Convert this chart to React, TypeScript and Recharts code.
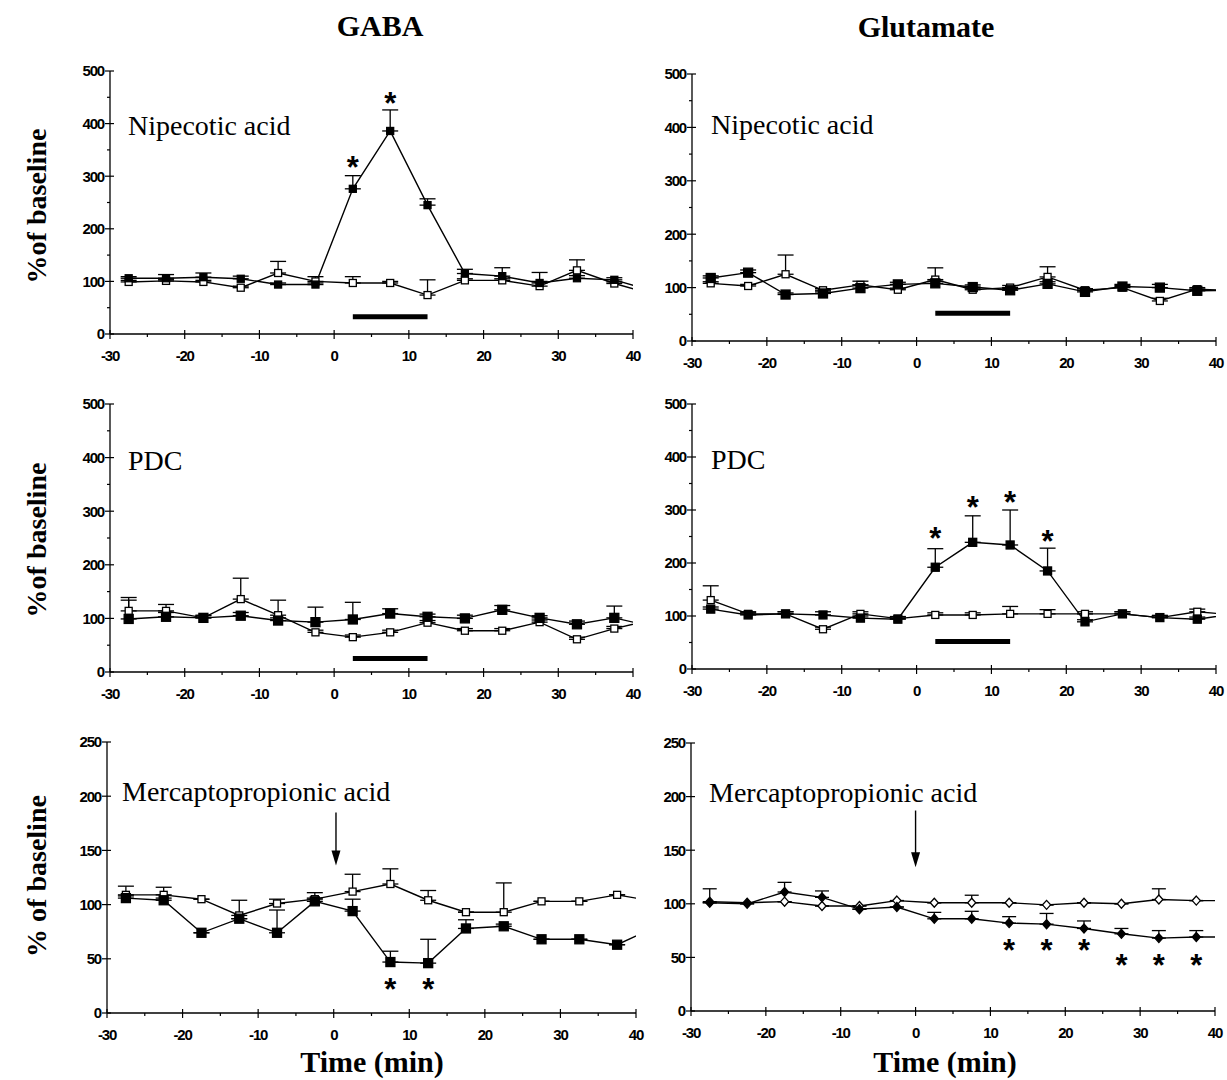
import React from 'react';
import { ComposedChart, Line, Scatter, XAxis, YAxis, ErrorBar, ReferenceLine } from 'recharts';

// sampling times (min): middle of each 5-min fraction, the last one lies past the axis end
const times = [-27.5, -22.5, -17.5, -12.5, -7.5, -2.5, 2.5, 7.5, 12.5, 17.5, 22.5, 27.5, 32.5, 37.5, 42.5];

const xTicks = [-30, -25, -20, -15, -10, -5, 0, 5, 10, 15, 20, 25, 30, 35, 40];
const yTicksTall = [0, 50, 100, 150, 200, 250, 300, 350, 400, 450, 500];
const yTicksShort = [0, 50, 100, 150, 200, 250];

// GABA, nipecotic acid
const gabaNipDrug = [106, 106, 108, 105, 94, 94, 276, 386, 245, 115, 110, 97, 106, 103, 82];
const gabaNipDrugErr = [3, 7, 8, 5, 3, 3, 25, 40, 12, 8, 16, 3, 5, 4, 0];
const gabaNipCtrl = [99, 101, 99, 88, 116, 100, 97, 97, 74, 102, 102, 91, 121, 96, 76];
const gabaNipCtrlErr = [3, 3, 3, 3, 22, 9, 12, 3, 29, 3, 3, 26, 20, 3, 0];
const gabaNipStarT = [2.5, 7.5];
const gabaNipStarY = [330, 453];

// glutamate, nipecotic acid
const gluNipDrug = [118, 128, 87, 89, 99, 106, 108, 101, 95, 107, 92, 102, 100, 94, 95];
const gluNipDrugErr = [4, 5, 3, 3, 6, 4, 4, 4, 3, 4, 3, 4, 6, 3, 0];
const gluNipCtrl = [108, 103, 125, 95, 105, 96, 115, 96, 100, 120, 95, 100, 75, 97, 94];
const gluNipCtrlErr = [3, 3, 36, 3, 7, 3, 22, 3, 4, 19, 3, 4, 5, 3, 0];

// GABA, PDC
const gabaPdcDrug = [99, 103, 101, 105, 96, 93, 98, 109, 103, 100, 116, 101, 89, 101, 85];
const gabaPdcDrugErr = [35, 8, 5, 6, 5, 28, 32, 9, 5, 6, 8, 4, 6, 22, 0];
const gabaPdcCtrl = [114, 114, 101, 136, 106, 74, 65, 74, 92, 77, 77, 93, 61, 81, 97];
const gabaPdcCtrlErr = [25, 12, 4, 39, 28, 4, 4, 4, 4, 4, 4, 4, 4, 4, 0];

// glutamate, PDC
const gluPdcDrug = [113, 102, 104, 102, 96, 94, 192, 239, 234, 185, 89, 104, 97, 94, 104];
const gluPdcDrugErr = [4, 5, 4, 6, 4, 4, 35, 50, 66, 43, 4, 4, 4, 4, 0];
const gluPdcCtrl = [130, 104, 104, 75, 104, 95, 102, 102, 104, 104, 104, 104, 97, 108, 102];
const gluPdcCtrlErr = [27, 4, 4, 4, 4, 4, 4, 4, 14, 8, 4, 4, 4, 5, 0];
const gluPdcStarT = [2.5, 7.5, 12.5, 17.5];
const gluPdcStarY = [261, 318, 329, 255];

// GABA, mercaptopropionic acid
const gabaMpaDrug = [106, 104, 74, 87, 74, 103, 94, 47, 46, 78, 80, 68, 68, 63, 79];
const gabaMpaDrugErr = [2, 2, 0, 0, 21, 3, 11, 10, 22, 8, 2, 0, 0, 0, 0];
const gabaMpaCtrl = [109, 109, 105, 90, 101, 105, 112, 119, 104, 93, 93, 103, 103, 109, 103];
const gabaMpaCtrlErr = [8, 7, 0, 14, 4, 6, 16, 14, 9, 0, 27, 0, 0, 0, 0];
const gabaMpaStarT = [7.5, 12.5];
const gabaMpaStarY = [29, 29];

// glutamate, mercaptopropionic acid
const gluMpaDrug = [101, 100, 111, 106, 95, 97, 86, 86, 82, 81, 77, 72, 68, 69, 69];
const gluMpaDrugErr = [0, 0, 9, 6, 0, 0, 6, 7, 6, 10, 7, 5, 7, 6, 0];
const gluMpaCtrl = [102, 101, 102, 98, 98, 103, 101, 101, 101, 99, 101, 100, 104, 103, 103];
const gluMpaCtrlErr = [12, 0, 0, 0, 0, 0, 0, 7, 0, 0, 0, 0, 10, 0, 0];
const gluMpaStarT = [12.5, 17.5, 22.5, 27.5, 32.5, 37.5];
const gluMpaStarY = [63, 63, 63, 49, 49, 49];

const serif = "'Liberation Serif', 'Times New Roman', serif";
const sans = "'Liberation Sans', Arial, sans-serif";

const rows = (drug: number[], drugErr: number[], ctrl: number[], ctrlErr: number[]) =>
  times.map((t, i) => ({ t, drug: drug[i], drugErr: [0, drugErr[i]], ctrl: ctrl[i], ctrlErr: [0, ctrlErr[i]] }));

const starRows = (ts: number[], ys: number[]) => ts.map((t, i) => ({ t, v: ys[i] }));

const squareDot = (size: number, filled: boolean) => (p: any) => {
  if (p.cx == null || p.payload.t > 40) return <g key={`d-${p.index}`} />;
  return (
    <rect key={`d-${p.index}`} x={p.cx - size / 2} y={p.cy - size / 2} width={size} height={size}
      fill={filled ? '#000' : '#fff'} stroke="#000" strokeWidth={1.3} />
  );
};

const diamondDot = (size: number, filled: boolean) => (p: any) => {
  if (p.cx == null || p.payload.t > 40) return <g key={`d-${p.index}`} />;
  const h = size / 2, w = size * 0.45;
  const pts = `${p.cx},${p.cy - h} ${p.cx + w},${p.cy} ${p.cx},${p.cy + h} ${p.cx - w},${p.cy}`;
  return <polygon key={`d-${p.index}`} points={pts} fill={filled ? '#000' : '#fff'} stroke="#000" strokeWidth={1.3} />;
};

const Star = (p: any) => (
  <text x={p.cx} y={p.cy + 18} textAnchor="middle" fontFamily={sans} fontWeight="bold" fontSize={31} fill="#000">*</text>
);

const Arrow = (p: any) => (
  <g>
    <line x1={p.x1} y1={p.y1} x2={p.x2} y2={p.y2 - 10} stroke="#000" strokeWidth={1.4} />
    <polygon points={`${p.x2 - 4.5},${p.y2 - 15} ${p.x2 + 4.5},${p.y2 - 15} ${p.x2},${p.y2}`} fill="#000" />
  </g>
);

const XTick = (p: any) => {
  const v = p.payload.value;
  const major = v % 10 === 0;
  return (
    <g>
      <line x1={p.x} x2={p.x} y1={major ? p.y - 4 : p.y} y2={major ? p.y + 5 : p.y + 3} stroke="#000" strokeWidth={1.2} />
      {major && (
        <text x={p.x} y={p.y + 27} textAnchor="middle" fontFamily={sans} fontWeight="bold" fontSize={15} letterSpacing={-1.2} fill="#000">
          {v}
        </text>
      )}
    </g>
  );
};

const yTick = (step: number) => (p: any) => {
  const v = p.payload.value;
  const major = v % step === 0;
  return (
    <g>
      <line x1={p.x - (major ? 5 : 3)} x2={p.x + (major ? 4 : 0)} y1={p.y} y2={p.y} stroke="#000" strokeWidth={1.2} />
      {major && (
        <text x={p.x - 6} y={p.y} dy="0.36em" textAnchor="end" fontFamily={sans} fontWeight="bold" fontSize={15} letterSpacing={-1.2} fill="#000">
          {v}
        </text>
      )}
    </g>
  );
};

interface PanelProps {
  left: number; right: number; top: number; bottom: number;
  data: any[]; yMax: number; yTicks: number[]; labelStep: number;
  drugDot: any; ctrlDot: any; cap?: number;
  stars?: { t: number; v: number }[];
  barY?: number;
  arrow?: number[]; // x, yFrom, yTo
}

const Panel: React.FC<PanelProps> = ({ left, right, top, bottom, data, yMax, yTicks, labelStep, drugDot, ctrlDot, cap = 8, stars, barY, arrow }) => {
  const w = right - left;
  const h = bottom - top;
  return (
    <div style={{ position: 'absolute', left: left - 60, top: top - 20 }}>
      <ComposedChart width={w + 70} height={h + 55} data={data} margin={{ top: 20, right: 10, bottom: 0, left: 0 }}>
        <XAxis dataKey="t" type="number" domain={[-30, 40]} ticks={xTicks} interval={0} allowDataOverflow
          height={35} tickSize={0} tickMargin={0} tickLine={false} tick={XTick}
          axisLine={{ stroke: '#000', strokeWidth: 1.3 }} />
        <YAxis type="number" domain={[0, yMax]} ticks={yTicks} interval={0} allowDataOverflow
          width={60} tickSize={0} tickMargin={0} tickLine={false} tick={yTick(labelStep)}
          axisLine={{ stroke: '#000', strokeWidth: 1.3 }} />
        <Line dataKey="ctrl" stroke="none" dot={false} activeDot={false} isAnimationActive={false}>
          <ErrorBar dataKey="ctrlErr" direction="y" width={cap} stroke="#000" strokeWidth={1.3} />
        </Line>
        <Line dataKey="drug" stroke="none" dot={false} activeDot={false} isAnimationActive={false}>
          <ErrorBar dataKey="drugErr" direction="y" width={cap} stroke="#000" strokeWidth={1.3} />
        </Line>
        <Line dataKey="ctrl" stroke="#000" strokeWidth={1.4} dot={ctrlDot} activeDot={false} isAnimationActive={false} />
        <Line dataKey="drug" stroke="#000" strokeWidth={1.4} dot={drugDot} activeDot={false} isAnimationActive={false} />
        {stars && <Scatter data={stars} dataKey="v" shape={Star} isAnimationActive={false} />}
        {barY !== undefined && (
          <ReferenceLine segment={[{ x: 2.5, y: barY }, { x: 12.5, y: barY }]} stroke="#000" strokeWidth={5} />
        )}
        {arrow && (
          <ReferenceLine segment={[{ x: arrow[0], y: arrow[1] }, { x: arrow[0], y: arrow[2] }]} shape={Arrow} />
        )}
      </ComposedChart>
    </div>
  );
};

const T = (props: any) => <text fill="#000" {...props} />;

export default function App() {
  return (
    <div style={{ position: 'absolute', left: 0, top: 0, width: 1227, height: 1080, background: '#fff', overflow: 'hidden' }}>
      <Panel left={110} right={633} top={71} bottom={334}
        data={rows(gabaNipDrug, gabaNipDrugErr, gabaNipCtrl, gabaNipCtrlErr)}
        yMax={500} yTicks={yTicksTall} labelStep={100}
        drugDot={squareDot(7, true)} ctrlDot={squareDot(7, false)}
        stars={starRows(gabaNipStarT, gabaNipStarY)} barY={33} />
      <Panel left={692} right={1216} top={74} bottom={341}
        data={rows(gluNipDrug, gluNipDrugErr, gluNipCtrl, gluNipCtrlErr)}
        yMax={500} yTicks={yTicksTall} labelStep={100}
        drugDot={squareDot(9, true)} ctrlDot={squareDot(7, false)} barY={52} />
      <Panel left={110} right={633} top={404} bottom={672}
        data={rows(gabaPdcDrug, gabaPdcDrugErr, gabaPdcCtrl, gabaPdcCtrlErr)}
        yMax={500} yTicks={yTicksTall} labelStep={100}
        drugDot={squareDot(9, true)} ctrlDot={squareDot(7, false)} barY={25} />
      <Panel left={692} right={1216} top={404} bottom={669}
        data={rows(gluPdcDrug, gluPdcDrugErr, gluPdcCtrl, gluPdcCtrlErr)}
        yMax={500} yTicks={yTicksTall} labelStep={100}
        drugDot={squareDot(8, true)} ctrlDot={squareDot(7, false)}
        stars={starRows(gluPdcStarT, gluPdcStarY)} barY={52} />
      <Panel left={107} right={636} top={742} bottom={1013}
        data={rows(gabaMpaDrug, gabaMpaDrugErr, gabaMpaCtrl, gabaMpaCtrlErr)}
        yMax={250} yTicks={yTicksShort} labelStep={50}
        drugDot={squareDot(9, true)} ctrlDot={squareDot(7, false)}
        stars={starRows(gabaMpaStarT, gabaMpaStarY)} arrow={[0.3, 185, 136]} />
      <Panel left={691} right={1215} top={743} bottom={1011}
        data={rows(gluMpaDrug, gluMpaDrugErr, gluMpaCtrl, gluMpaCtrlErr)}
        yMax={250} yTicks={yTicksShort} labelStep={50}
        drugDot={diamondDot(9, true)} ctrlDot={diamondDot(9, false)} cap={7}
        stars={starRows(gluMpaStarT, gluMpaStarY)} arrow={[0, 187, 134]} />

      <svg width={1227} height={1080} style={{ position: 'absolute', left: 0, top: 0, pointerEvents: 'none' }}>
        <T x={380} y={36} textAnchor="middle" fontFamily={serif} fontWeight="bold" fontSize={30}>GABA</T>
        <T x={926} y={37} textAnchor="middle" fontFamily={serif} fontWeight="bold" fontSize={30}>Glutamate</T>

        <T x={46} y={206} transform="rotate(-90 46 206)" textAnchor="middle" fontFamily={serif} fontWeight="bold" fontSize={28}>%of baseline</T>
        <T x={46} y={540} transform="rotate(-90 46 540)" textAnchor="middle" fontFamily={serif} fontWeight="bold" fontSize={28}>%of baseline</T>
        <T x={46} y={876} transform="rotate(-90 46 876)" textAnchor="middle" fontFamily={serif} fontWeight="bold" fontSize={28}>% of baseline</T>

        <T x={128} y={135} fontFamily={serif} fontSize={28}>Nipecotic acid</T>
        <T x={711} y={134} fontFamily={serif} fontSize={28}>Nipecotic acid</T>
        <T x={128} y={470} fontFamily={serif} fontSize={28}>PDC</T>
        <T x={711} y={469} fontFamily={serif} fontSize={28}>PDC</T>
        <T x={122} y={801} fontFamily={serif} fontSize={28}>Mercaptopropionic acid</T>
        <T x={709} y={802} fontFamily={serif} fontSize={28}>Mercaptopropionic acid</T>

        <T x={372} y={1072} textAnchor="middle" fontFamily={serif} fontWeight="bold" fontSize={30}>Time (min)</T>
        <T x={945} y={1072} textAnchor="middle" fontFamily={serif} fontWeight="bold" fontSize={30}>Time (min)</T>
      </svg>
    </div>
  );
}
